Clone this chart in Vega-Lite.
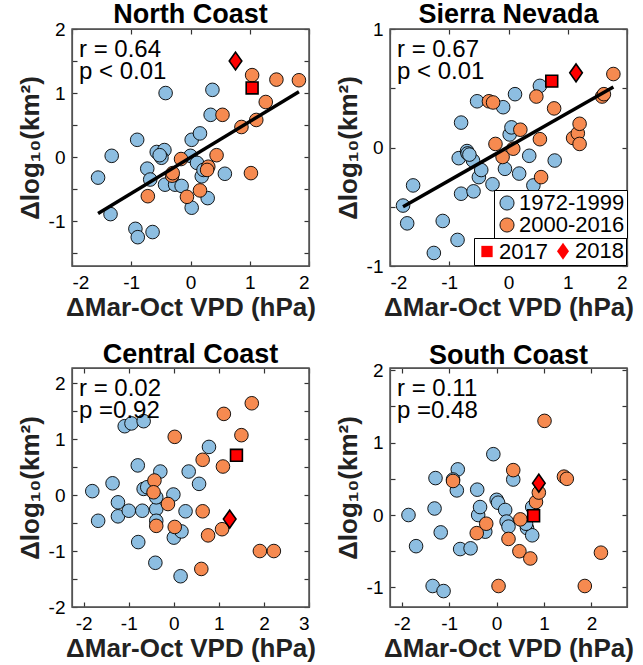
{
  "$schema": "https://vega.github.io/schema/vega-lite/v6.json",
  "padding": {"left": 16, "top": 0, "right": 4, "bottom": 0},
  "columns": 2,
  "spacing": {"row": 19, "column": 17},
  "resolve": {"scale": {"color": "independent", "shape": "independent"}},
  "datasets": {
    "nc": [
      {"vpd": -1.56, "area": -0.32, "period": "1972-1999"},
      {"vpd": -1.33, "area": 0.02, "period": "1972-1999"},
      {"vpd": -1.35, "area": -0.89, "period": "1972-1999"},
      {"vpd": -0.90, "area": 0.27, "period": "1972-1999"},
      {"vpd": -0.93, "area": -1.12, "period": "1972-1999"},
      {"vpd": -0.89, "area": -1.25, "period": "1972-1999"},
      {"vpd": -0.64, "area": -1.17, "period": "1972-1999"},
      {"vpd": -0.42, "area": 1.0, "period": "1972-1999"},
      {"vpd": -0.73, "area": -0.18, "period": "1972-1999"},
      {"vpd": -0.68, "area": -0.35, "period": "1972-1999"},
      {"vpd": -0.57, "area": 0.08, "period": "1972-1999"},
      {"vpd": -0.44, "area": 0.11, "period": "1972-1999"},
      {"vpd": -0.49, "area": -0.01, "period": "1972-1999"},
      {"vpd": -0.52, "area": 0.03, "period": "1972-1999"},
      {"vpd": -0.43, "area": -0.43, "period": "1972-1999"},
      {"vpd": -0.26, "area": -0.43, "period": "1972-1999"},
      {"vpd": -0.15, "area": -0.45, "period": "1972-1999"},
      {"vpd": 0.02, "area": -0.79, "period": "1972-1999"},
      {"vpd": 0.02, "area": 0.27, "period": "1972-1999"},
      {"vpd": 0.16, "area": 0.37, "period": "1972-1999"},
      {"vpd": 0.0, "area": 0.02, "period": "1972-1999"},
      {"vpd": 0.11, "area": -0.09, "period": "1972-1999"},
      {"vpd": 0.19, "area": -0.30, "period": "1972-1999"},
      {"vpd": 0.29, "area": -0.64, "period": "1972-1999"},
      {"vpd": 0.37, "area": 1.05, "period": "1972-1999"},
      {"vpd": 0.34, "area": 0.66, "period": "1972-1999"},
      {"vpd": 0.58, "area": -0.26, "period": "1972-1999"},
      {"vpd": 0.22, "area": -0.20, "period": "1972-1999"},
      {"vpd": -0.72, "area": -0.61, "period": "2000-2016"},
      {"vpd": -0.31, "area": -0.29, "period": "2000-2016"},
      {"vpd": -0.16, "area": -0.03, "period": "2000-2016"},
      {"vpd": -0.06, "area": -0.62, "period": "2000-2016"},
      {"vpd": 0.16, "area": -0.52, "period": "2000-2016"},
      {"vpd": 0.30, "area": -0.15, "period": "2000-2016"},
      {"vpd": 0.44, "area": 0.03, "period": "2000-2016"},
      {"vpd": 0.54, "area": 0.66, "period": "2000-2016"},
      {"vpd": 0.86, "area": 0.47, "period": "2000-2016"},
      {"vpd": 1.02, "area": -0.25, "period": "2000-2016"},
      {"vpd": 1.04, "area": 1.28, "period": "2000-2016"},
      {"vpd": 1.11, "area": 0.58, "period": "2000-2016"},
      {"vpd": 1.27, "area": 0.86, "period": "2000-2016"},
      {"vpd": 1.45, "area": 1.21, "period": "2000-2016"},
      {"vpd": 1.83, "area": 1.20, "period": "2000-2016"},
      {"vpd": 0.28, "area": -0.20, "period": "2000-2016"},
      {"vpd": -0.30, "area": -0.25, "period": "2000-2016"},
      {"vpd": 1.04, "area": 1.08, "period": "2017"},
      {"vpd": 0.76, "area": 1.50, "period": "2018"}
    ],
    "nc_fit": [{"x1": -1.56, "y1": -0.88, "x2": 1.83, "y2": 1.02}],
    "sn": [
      {"vpd": -1.78, "area": -0.49, "period": "1972-1999"},
      {"vpd": -1.61, "area": -0.32, "period": "1972-1999"},
      {"vpd": -1.71, "area": -0.64, "period": "1972-1999"},
      {"vpd": -1.26, "area": -0.89, "period": "1972-1999"},
      {"vpd": -1.11, "area": -0.62, "period": "1972-1999"},
      {"vpd": -0.86, "area": -0.78, "period": "1972-1999"},
      {"vpd": -0.80, "area": 0.21, "period": "1972-1999"},
      {"vpd": -0.84, "area": -0.09, "period": "1972-1999"},
      {"vpd": -0.70, "area": -0.03, "period": "1972-1999"},
      {"vpd": -0.69, "area": -0.05, "period": "1972-1999"},
      {"vpd": -0.60, "area": -0.11, "period": "1972-1999"},
      {"vpd": -0.80, "area": -0.39, "period": "1972-1999"},
      {"vpd": -0.59, "area": -0.37, "period": "1972-1999"},
      {"vpd": -0.50, "area": -0.25, "period": "1972-1999"},
      {"vpd": -0.46, "area": -0.19, "period": "1972-1999"},
      {"vpd": -0.53, "area": 0.39, "period": "1972-1999"},
      {"vpd": -0.27, "area": -0.31, "period": "1972-1999"},
      {"vpd": -0.09, "area": 0.34, "period": "1972-1999"},
      {"vpd": -0.06, "area": -0.18, "period": "1972-1999"},
      {"vpd": 0.02, "area": 0.11, "period": "1972-1999"},
      {"vpd": 0.05, "area": 0.17, "period": "1972-1999"},
      {"vpd": 0.11, "area": 0.45, "period": "1972-1999"},
      {"vpd": 0.18, "area": -0.22, "period": "1972-1999"},
      {"vpd": 0.35, "area": -0.07, "period": "1972-1999"},
      {"vpd": 0.42, "area": -0.32, "period": "1972-1999"},
      {"vpd": 0.53, "area": 0.52, "period": "1972-1999"},
      {"vpd": 0.78, "area": -0.11, "period": "1972-1999"},
      {"vpd": -0.66, "area": -0.06, "period": "1972-1999"},
      {"vpd": -0.33, "area": 0.39, "period": "2000-2016"},
      {"vpd": -0.26, "area": 0.38, "period": "2000-2016"},
      {"vpd": -0.22, "area": 0.03, "period": "2000-2016"},
      {"vpd": -0.10, "area": -0.08, "period": "2000-2016"},
      {"vpd": 0.08, "area": -0.01, "period": "2000-2016"},
      {"vpd": 0.20, "area": 0.15, "period": "2000-2016"},
      {"vpd": 0.53, "area": 0.07, "period": "2000-2016"},
      {"vpd": 0.55, "area": -0.25, "period": "2000-2016"},
      {"vpd": 0.47, "area": 0.43, "period": "2000-2016"},
      {"vpd": 0.77, "area": 0.33, "period": "2000-2016"},
      {"vpd": 1.09, "area": 0.08, "period": "2000-2016"},
      {"vpd": 1.17, "area": 0.12, "period": "2000-2016"},
      {"vpd": 1.20, "area": 0.20, "period": "2000-2016"},
      {"vpd": 1.20, "area": 0.03, "period": "2000-2016"},
      {"vpd": 1.58, "area": 0.43, "period": "2000-2016"},
      {"vpd": 1.61, "area": 0.45, "period": "2000-2016"},
      {"vpd": 1.77, "area": 0.62, "period": "2000-2016"},
      {"vpd": 0.73, "area": 0.56, "period": "2017"},
      {"vpd": 1.14, "area": 0.63, "period": "2018"}
    ],
    "sn_fit": [{"x1": -1.78, "y1": -0.50, "x2": 1.77, "y2": 0.51}],
    "cc": [
      {"vpd": -1.81, "area": 0.07, "period": "1972-1999"},
      {"vpd": -1.68, "area": -0.46, "period": "1972-1999"},
      {"vpd": -1.36, "area": 0.21, "period": "1972-1999"},
      {"vpd": -1.24, "area": -0.13, "period": "1972-1999"},
      {"vpd": -1.24, "area": -0.38, "period": "1972-1999"},
      {"vpd": -1.09, "area": 1.23, "period": "1972-1999"},
      {"vpd": -0.94, "area": 1.28, "period": "1972-1999"},
      {"vpd": -0.67, "area": 1.32, "period": "1972-1999"},
      {"vpd": -1.00, "area": -0.28, "period": "1972-1999"},
      {"vpd": -0.80, "area": 0.53, "period": "1972-1999"},
      {"vpd": -0.79, "area": -0.84, "period": "1972-1999"},
      {"vpd": -0.70, "area": -0.28, "period": "1972-1999"},
      {"vpd": -0.67, "area": 0.11, "period": "1972-1999"},
      {"vpd": -0.59, "area": 0.14, "period": "1972-1999"},
      {"vpd": -0.41, "area": -1.21, "period": "1972-1999"},
      {"vpd": -0.39, "area": -0.25, "period": "1972-1999"},
      {"vpd": -0.39, "area": -0.46, "period": "1972-1999"},
      {"vpd": -0.30, "area": 0.42, "period": "1972-1999"},
      {"vpd": -0.39, "area": -0.04, "period": "1972-1999"},
      {"vpd": -0.01, "area": 0.01, "period": "1972-1999"},
      {"vpd": 0.0, "area": -0.76, "period": "1972-1999"},
      {"vpd": 0.17, "area": -0.65, "period": "1972-1999"},
      {"vpd": 0.15, "area": -1.45, "period": "1972-1999"},
      {"vpd": 0.26, "area": -0.29, "period": "1972-1999"},
      {"vpd": 0.33, "area": 0.42, "period": "1972-1999"},
      {"vpd": 0.56, "area": 0.20, "period": "1972-1999"},
      {"vpd": 0.78, "area": 0.86, "period": "1972-1999"},
      {"vpd": -0.43, "area": 0.26, "period": "2000-2016"},
      {"vpd": -0.45, "area": 0.05, "period": "2000-2016"},
      {"vpd": -0.39, "area": -0.55, "period": "2000-2016"},
      {"vpd": -0.13, "area": -0.16, "period": "2000-2016"},
      {"vpd": 0.02, "area": -0.57, "period": "2000-2016"},
      {"vpd": 0.02, "area": 1.04, "period": "2000-2016"},
      {"vpd": 0.64, "area": -0.29, "period": "2000-2016"},
      {"vpd": 0.64, "area": 0.63, "period": "2000-2016"},
      {"vpd": 0.76, "area": -0.72, "period": "2000-2016"},
      {"vpd": 0.61, "area": -1.32, "period": "2000-2016"},
      {"vpd": 1.09, "area": 0.51, "period": "2000-2016"},
      {"vpd": 1.07, "area": -0.61, "period": "2000-2016"},
      {"vpd": 1.11, "area": 1.45, "period": "2000-2016"},
      {"vpd": 1.50, "area": 1.07, "period": "2000-2016"},
      {"vpd": 1.73, "area": 1.64, "period": "2000-2016"},
      {"vpd": 1.91, "area": -1.0, "period": "2000-2016"},
      {"vpd": 2.22, "area": -1.0, "period": "2000-2016"},
      {"vpd": 1.39, "area": 0.71, "period": "2017"},
      {"vpd": 1.24, "area": -0.43, "period": "2018"}
    ],
    "sc": [
      {"vpd": -1.86, "area": 0.0, "period": "1972-1999"},
      {"vpd": -1.70, "area": -0.43, "period": "1972-1999"},
      {"vpd": -1.31, "area": 0.09, "period": "1972-1999"},
      {"vpd": -1.29, "area": 0.51, "period": "1972-1999"},
      {"vpd": -1.35, "area": -0.98, "period": "1972-1999"},
      {"vpd": -1.12, "area": -1.05, "period": "1972-1999"},
      {"vpd": -1.18, "area": -0.24, "period": "1972-1999"},
      {"vpd": -0.84, "area": 0.34, "period": "1972-1999"},
      {"vpd": -0.82, "area": 0.63, "period": "1972-1999"},
      {"vpd": -0.77, "area": -0.47, "period": "1972-1999"},
      {"vpd": -0.55, "area": -0.46, "period": "1972-1999"},
      {"vpd": -0.41, "area": 0.35, "period": "1972-1999"},
      {"vpd": -0.39, "area": 0.0, "period": "1972-1999"},
      {"vpd": -0.35, "area": 0.11, "period": "1972-1999"},
      {"vpd": -0.24, "area": -0.23, "period": "1972-1999"},
      {"vpd": -0.07, "area": 0.84, "period": "1972-1999"},
      {"vpd": 0.0, "area": 0.21, "period": "1972-1999"},
      {"vpd": 0.03, "area": 0.17, "period": "1972-1999"},
      {"vpd": 0.18, "area": 0.07, "period": "1972-1999"},
      {"vpd": 0.21, "area": -0.09, "period": "1972-1999"},
      {"vpd": 0.25, "area": -0.16, "period": "1972-1999"},
      {"vpd": 0.35, "area": 0.49, "period": "1972-1999"},
      {"vpd": 0.64, "area": -0.18, "period": "1972-1999"},
      {"vpd": 0.75, "area": -0.28, "period": "1972-1999"},
      {"vpd": 0.75, "area": 0.11, "period": "1972-1999"},
      {"vpd": -0.92, "area": 0.49, "period": "1972-1999"},
      {"vpd": 0.62, "area": -0.12, "period": "1972-1999"},
      {"vpd": -0.92, "area": 0.47, "period": "2000-2016"},
      {"vpd": -0.42, "area": -0.25, "period": "2000-2016"},
      {"vpd": -0.22, "area": -0.12, "period": "2000-2016"},
      {"vpd": 0.04, "area": -0.98, "period": "2000-2016"},
      {"vpd": 0.25, "area": -0.33, "period": "2000-2016"},
      {"vpd": 0.35, "area": 0.62, "period": "2000-2016"},
      {"vpd": 0.50, "area": -0.06, "period": "2000-2016"},
      {"vpd": 0.48, "area": -0.50, "period": "2000-2016"},
      {"vpd": 0.71, "area": -0.60, "period": "2000-2016"},
      {"vpd": 0.83, "area": 0.18, "period": "2000-2016"},
      {"vpd": 0.89, "area": 0.31, "period": "2000-2016"},
      {"vpd": 1.01, "area": 1.30, "period": "2000-2016"},
      {"vpd": 1.42, "area": 0.53, "period": "2000-2016"},
      {"vpd": 1.48, "area": 0.50, "period": "2000-2016"},
      {"vpd": 1.86, "area": -0.98, "period": "2000-2016"},
      {"vpd": 2.20, "area": -0.52, "period": "2000-2016"},
      {"vpd": 0.78, "area": -0.01, "period": "2017"},
      {"vpd": 0.89, "area": 0.44, "period": "2018"}
    ]
  },
  "concat": [
    {
      "title": {"text": "North Coast", "offset": -9},
      "width": 237, "height": 237,
      "layer": [
        {
          "data": {"name": "nc"},
          "transform": [{"filter": {"field": "period", "oneOf": ["1972-1999", "2000-2016"]}}],
          "mark": {"type": "point", "filled": true, "shape": "circle", "size": 185, "stroke": "black", "strokeWidth": 0.9, "opacity": 1},
          "encoding": {
            "x": {"field": "vpd", "type": "quantitative", "scale": {"domain": [-2, 2], "nice": false, "zero": false}, "axis": {"orient": "bottom", "values": [-2, -1, 0, 1, 2], "title": "ΔMar-Oct VPD (hPa)", "labelExpr": "'' + datum.value"}},
            "y": {"field": "area", "type": "quantitative", "scale": {"domain": [-1.7, 2], "nice": false, "zero": false}, "axis": {"orient": "left", "values": [-1.5, -1, -0.5, 0, 0.5, 1, 1.5, 2], "title": "Δlog₁₀(km²)", "labelExpr": "datum.value % 1 === 0 ? '' + datum.value : ''"}},
            "color": {"field": "period", "type": "nominal", "scale": {"domain": ["1972-1999", "2000-2016"], "range": ["#8DBEE1", "#F68A50"]}, "legend": null}
          }
        },
        {
          "data": {"name": "nc_fit"},
          "mark": {"type": "rule", "strokeWidth": 3.5, "color": "black"},
          "encoding": {
            "x": {"field": "x1", "type": "quantitative", "axis": null},
            "y": {"field": "y1", "type": "quantitative", "axis": null},
            "x2": {"field": "x2"},
            "y2": {"field": "y2"}
          }
        },
        {
          "data": {"name": "nc"},
          "transform": [{"filter": {"field": "period", "oneOf": ["2017", "2018"]}}],
          "mark": {"type": "point", "filled": true, "fill": "#FF0000", "stroke": "black", "strokeWidth": 1.6, "size": 220, "opacity": 1},
          "encoding": {
            "x": {"field": "vpd", "type": "quantitative", "axis": null},
            "y": {"field": "area", "type": "quantitative", "axis": null},
            "shape": {"field": "period", "type": "nominal", "scale": {"domain": ["2017", "2018"], "range": ["M-0.8,-0.8L0.8,-0.8L0.8,0.8L-0.8,0.8Z", "M0,-1.2L0.85,0L0,1.2L-0.85,0Z"]}, "legend": null}
          }
        },
        {
          "data": {"values": [{}]},
          "mark": {"type": "text", "align": "left", "baseline": "top", "fontSize": 24, "lineHeight": 22, "dx": 7, "dy": 9},
          "encoding": {
            "x": {"datum": -2, "type": "quantitative", "axis": {"orient": "top", "values": [-2, -1, 0, 1, 2], "labels": false, "title": null, "labelPadding": 0}},
            "y": {"datum": 2, "type": "quantitative", "axis": {"orient": "right", "values": [-1.5, -1, -0.5, 0, 0.5, 1, 1.5, 2], "labels": false, "title": null, "labelPadding": 0}},
            "text": {"value": ["r = 0.64", "p < 0.01"]}
          }
        },
        {
          "data": {"values": [{}]},
          "mark": {"type": "rect", "fillOpacity": 0, "stroke": "#555555", "strokeWidth": 1.3},
          "encoding": {
            "x": {"datum": -2, "type": "quantitative", "axis": null},
            "x2": {"datum": 2},
            "y": {"datum": -1.7, "type": "quantitative", "axis": null},
            "y2": {"datum": 2}
          }
        }
      ]
    },
    {
      "title": {"text": "Sierra Nevada", "offset": -9},
      "width": 237, "height": 237,
      "layer": [
        {
          "data": {"name": "sn"},
          "transform": [{"filter": {"field": "period", "oneOf": ["1972-1999", "2000-2016"]}}],
          "mark": {"type": "point", "filled": true, "shape": "circle", "size": 185, "stroke": "black", "strokeWidth": 0.9, "opacity": 1},
          "encoding": {
            "x": {"field": "vpd", "type": "quantitative", "scale": {"domain": [-2, 2], "nice": false, "zero": false}, "axis": {"orient": "bottom", "values": [-2, -1, 0, 1, 2], "title": "ΔMar-Oct VPD (hPa)", "labelExpr": "'' + datum.value"}},
            "y": {"field": "area", "type": "quantitative", "scale": {"domain": [-1, 1], "nice": false, "zero": false}, "axis": {"orient": "left", "values": [-1, -0.5, 0, 0.5, 1], "title": "Δlog₁₀(km²)", "labelExpr": "datum.value % 1 === 0 ? '' + datum.value : ''"}},
            "color": {"field": "period", "type": "nominal", "scale": {"domain": ["1972-1999", "2000-2016"], "range": ["#8DBEE1", "#F68A50"]},
              "legend": {"orient": "none", "legendX": 104, "legendY": 161, "title": null, "labelFontSize": 22, "symbolSize": 200, "symbolType": "circle", "symbolStrokeColor": "black", "symbolStrokeWidth": 0.9, "strokeColor": "black", "fillColor": "white", "padding": 2, "rowPadding": -2, "labelOffset": 1}}
          }
        },
        {
          "data": {"name": "sn_fit"},
          "mark": {"type": "rule", "strokeWidth": 3.5, "color": "black"},
          "encoding": {
            "x": {"field": "x1", "type": "quantitative", "axis": null},
            "y": {"field": "y1", "type": "quantitative", "axis": null},
            "x2": {"field": "x2"},
            "y2": {"field": "y2"}
          }
        },
        {
          "data": {"name": "sn"},
          "transform": [{"filter": {"field": "period", "oneOf": ["2017", "2018"]}}],
          "mark": {"type": "point", "filled": true, "fill": "#FF0000", "stroke": "black", "strokeWidth": 1.6, "size": 220, "opacity": 1},
          "encoding": {
            "x": {"field": "vpd", "type": "quantitative", "axis": null},
            "y": {"field": "area", "type": "quantitative", "axis": null},
            "shape": {"field": "period", "type": "nominal", "scale": {"domain": ["2017", "2018"], "range": ["M-0.8,-0.8L0.8,-0.8L0.8,0.8L-0.8,0.8Z", "M0,-1.2L0.85,0L0,1.2L-0.85,0Z"]},
              "legend": {"orient": "none", "legendX": 84, "legendY": 209, "title": null, "direction": "horizontal", "columns": 2, "labelFontSize": 22, "symbolSize": 200, "symbolFillColor": "#FF0000", "symbolStrokeColor": "black", "symbolStrokeWidth": 1.6, "strokeColor": "black", "fillColor": "white", "padding": 2, "columnPadding": 4, "labelOffset": 1}}
          }
        },
        {
          "data": {"values": [{}]},
          "mark": {"type": "text", "align": "left", "baseline": "top", "fontSize": 24, "lineHeight": 22, "dx": 7, "dy": 9},
          "encoding": {
            "x": {"datum": -2, "type": "quantitative", "axis": {"orient": "top", "values": [-2, -1, 0, 1, 2], "labels": false, "title": null, "labelPadding": 0}},
            "y": {"datum": 1, "type": "quantitative", "axis": {"orient": "right", "values": [-1, -0.5, 0, 0.5, 1], "labels": false, "title": null, "labelPadding": 0}},
            "text": {"value": ["r = 0.67", "p < 0.01"]}
          }
        },
        {
          "data": {"values": [{}]},
          "mark": {"type": "rect", "fillOpacity": 0, "stroke": "#555555", "strokeWidth": 1.3},
          "encoding": {
            "x": {"datum": -2, "type": "quantitative", "axis": null},
            "x2": {"datum": 2},
            "y": {"datum": -1, "type": "quantitative", "axis": null},
            "y2": {"datum": 1}
          }
        }
      ]
    },
    {
      "title": {"text": "Central Coast", "offset": -2},
      "width": 237, "height": 239,
      "layer": [
        {
          "data": {"name": "cc"},
          "transform": [{"filter": {"field": "period", "oneOf": ["1972-1999", "2000-2016"]}}],
          "mark": {"type": "point", "filled": true, "shape": "circle", "size": 185, "stroke": "black", "strokeWidth": 0.9, "opacity": 1},
          "encoding": {
            "x": {"field": "vpd", "type": "quantitative", "scale": {"domain": [-2.26, 3], "nice": false, "zero": false}, "axis": {"orient": "bottom", "values": [-2, -1, 0, 1, 2, 3], "title": "ΔMar-Oct VPD (hPa)", "labelExpr": "'' + datum.value"}},
            "y": {"field": "area", "type": "quantitative", "scale": {"domain": [-2, 2.27], "nice": false, "zero": false}, "axis": {"orient": "left", "values": [-2, -1.5, -1, -0.5, 0, 0.5, 1, 1.5, 2], "title": "Δlog₁₀(km²)", "labelExpr": "datum.value % 1 === 0 ? '' + datum.value : ''"}},
            "color": {"field": "period", "type": "nominal", "scale": {"domain": ["1972-1999", "2000-2016"], "range": ["#8DBEE1", "#F68A50"]}, "legend": null}
          }
        },
        {
          "data": {"name": "cc"},
          "transform": [{"filter": {"field": "period", "oneOf": ["2017", "2018"]}}],
          "mark": {"type": "point", "filled": true, "fill": "#FF0000", "stroke": "black", "strokeWidth": 1.6, "size": 220, "opacity": 1},
          "encoding": {
            "x": {"field": "vpd", "type": "quantitative", "axis": null},
            "y": {"field": "area", "type": "quantitative", "axis": null},
            "shape": {"field": "period", "type": "nominal", "scale": {"domain": ["2017", "2018"], "range": ["M-0.8,-0.8L0.8,-0.8L0.8,0.8L-0.8,0.8Z", "M0,-1.2L0.85,0L0,1.2L-0.85,0Z"]}, "legend": null}
          }
        },
        {
          "data": {"values": [{}]},
          "mark": {"type": "text", "align": "left", "baseline": "top", "fontSize": 24, "lineHeight": 22, "dx": 7, "dy": 9},
          "encoding": {
            "x": {"datum": -2.26, "type": "quantitative", "axis": {"orient": "top", "values": [-2, -1, 0, 1, 2, 3], "labels": false, "title": null, "labelPadding": 0}},
            "y": {"datum": 2.27, "type": "quantitative", "axis": {"orient": "right", "values": [-2, -1.5, -1, -0.5, 0, 0.5, 1, 1.5, 2], "labels": false, "title": null, "labelPadding": 0}},
            "text": {"value": ["r = 0.02", "p =0.92"]}
          }
        },
        {
          "data": {"values": [{}]},
          "mark": {"type": "rect", "fillOpacity": 0, "stroke": "#555555", "strokeWidth": 1.3},
          "encoding": {
            "x": {"datum": -2.26, "type": "quantitative", "axis": null},
            "x2": {"datum": 3},
            "y": {"datum": -2, "type": "quantitative", "axis": null},
            "y2": {"datum": 2.27}
          }
        }
      ]
    },
    {
      "title": {"text": "South Coast", "offset": -9},
      "width": 237, "height": 239,
      "layer": [
        {
          "data": {"name": "sc"},
          "transform": [{"filter": {"field": "period", "oneOf": ["1972-1999", "2000-2016"]}}],
          "mark": {"type": "point", "filled": true, "shape": "circle", "size": 185, "stroke": "black", "strokeWidth": 0.9, "opacity": 1},
          "encoding": {
            "x": {"field": "vpd", "type": "quantitative", "scale": {"domain": [-2.25, 2.75], "nice": false, "zero": false}, "axis": {"orient": "bottom", "values": [-2, -1, 0, 1, 2], "title": "ΔMar-Oct VPD (hPa)", "labelExpr": "'' + datum.value"}},
            "y": {"field": "area", "type": "quantitative", "scale": {"domain": [-1.27, 2.03], "nice": false, "zero": false}, "axis": {"orient": "left", "values": [-1, -0.5, 0, 0.5, 1, 1.5, 2], "title": "Δlog₁₀(km²)", "labelExpr": "datum.value % 1 === 0 ? '' + datum.value : ''"}},
            "color": {"field": "period", "type": "nominal", "scale": {"domain": ["1972-1999", "2000-2016"], "range": ["#8DBEE1", "#F68A50"]}, "legend": null}
          }
        },
        {
          "data": {"name": "sc"},
          "transform": [{"filter": {"field": "period", "oneOf": ["2017", "2018"]}}],
          "mark": {"type": "point", "filled": true, "fill": "#FF0000", "stroke": "black", "strokeWidth": 1.6, "size": 220, "opacity": 1},
          "encoding": {
            "x": {"field": "vpd", "type": "quantitative", "axis": null},
            "y": {"field": "area", "type": "quantitative", "axis": null},
            "shape": {"field": "period", "type": "nominal", "scale": {"domain": ["2017", "2018"], "range": ["M-0.8,-0.8L0.8,-0.8L0.8,0.8L-0.8,0.8Z", "M0,-1.2L0.85,0L0,1.2L-0.85,0Z"]}, "legend": null}
          }
        },
        {
          "data": {"values": [{}]},
          "mark": {"type": "text", "align": "left", "baseline": "top", "fontSize": 24, "lineHeight": 22, "dx": 7, "dy": 9},
          "encoding": {
            "x": {"datum": -2.25, "type": "quantitative", "axis": {"orient": "top", "values": [-2, -1, 0, 1, 2], "labels": false, "title": null, "labelPadding": 0}},
            "y": {"datum": 2.03, "type": "quantitative", "axis": {"orient": "right", "values": [-1, -0.5, 0, 0.5, 1, 1.5, 2], "labels": false, "title": null, "labelPadding": 0}},
            "text": {"value": ["r = 0.11", "p =0.48"]}
          }
        },
        {
          "data": {"values": [{}]},
          "mark": {"type": "rect", "fillOpacity": 0, "stroke": "#555555", "strokeWidth": 1.3},
          "encoding": {
            "x": {"datum": -2.25, "type": "quantitative", "axis": null},
            "x2": {"datum": 2.75},
            "y": {"datum": -1.27, "type": "quantitative", "axis": null},
            "y2": {"datum": 2.03}
          }
        }
      ]
    }
  ],
  "config": {
    "font": "Liberation Sans",
    "view": {"stroke": "#555555", "strokeWidth": 1.2},
    "title": {"fontSize": 27, "fontWeight": "bold", "color": "black", "font": "Liberation Sans"},
    "axis": {"grid": false, "domain": true, "domainColor": "#555555", "domainWidth": 1.2, "minExtent": 0, "zindex": 1, "tickSize": -5, "tickColor": "#333333", "tickWidth": 1.2, "labelFontSize": 19, "labelColor": "black", "labelPadding": 12, "titleFontSize": 26, "titleFontWeight": "bold", "titleColor": "#222222", "titlePadding": 2, "labelFont": "Liberation Sans", "titleFont": "Liberation Sans"},
    "axisY": {"titleFontSize": 26, "titlePadding": 5},
    "text": {"color": "black", "font": "Liberation Sans"}
  }
}
